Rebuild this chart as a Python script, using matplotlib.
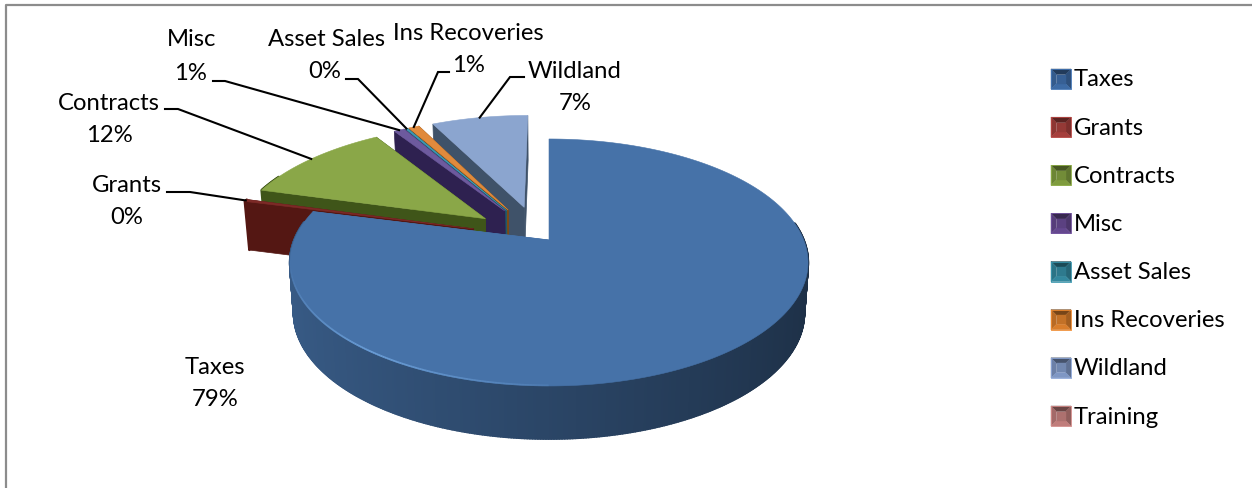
import numpy as np
import matplotlib
matplotlib.use('Agg')
import matplotlib.pyplot as plt
from matplotlib.collections import PolyCollection
from matplotlib.colors import to_rgb

categories = ['Taxes', 'Grants', 'Contracts', 'Misc', 'Asset Sales', 'Ins Recoveries', 'Wildland', 'Training']
values = [79.0, 0.3, 11.5, 0.8, 0.15, 0.8, 7.45, 0.0]
percent_labels = ['79%', '0%', '12%', '1%', '0%', '1%', '7%', '0%']

top_colors = ['#4672a8', '#7d2a27', '#8aa748', '#6d5a9e', '#3f9ab4', '#e08a3c', '#8ba5cf', '#c98a88']
wall_colors = ['#4672a8', '#541713', '#3f5519', '#2e2150', '#1f5a6b', '#7d4a14', '#3f5269', '#70403f']
legend_colors = ['#3d6ba5', '#a63f3c', '#7f9c3e', '#65488f', '#33889e', '#d97d2b', '#7f97c4', '#c07d7b']

# perspective of the disc, fitted on the picture
CX, CY = 549, 241
RX, RY = 254.7, 119.4
K = 0.182
EXPLODE = 0.27
SHIFT = (-0.04, 0.025)

# label centres, and leader start + elbow (pixels)
label_pos = {
    'Taxes': ((215, 367), (215, 399)),
    'Grants': ((127, 185), (127, 218)),
    'Contracts': ((109, 103), (109, 136)),
    'Misc': ((192, 40), (190, 73)),
    'Asset Sales': ((327, 39), (325, 72)),
    'Ins Recoveries': ((468, 33), (468, 65)),
    'Wildland': ((575, 71), (575, 104)),
}
leaders = {
    'Grants': [(167, 193), (190, 193)],
    'Contracts': [(165, 110), (178, 110)],
    'Misc': [(213, 82), (225, 82)],
    'Asset Sales': [(346, 80), (358, 80)],
    'Ins Recoveries': [(449, 73), (438, 73)],
    'Wildland': [(524, 78), (510, 78)],
}
FONT = 'Lato'
FS = 17.2


def project(x, y, z=0.0):
    w = 1 + K * y
    sx = CX + RX * x / w * (1 - 0.015 * z)
    sy = CY - RY * y / w * (1 - 0.015 * z) + z * (49.8 - 5.2 * y)
    return sx, sy


def shade(color, f):
    return tuple(min(1, c * f) for c in to_rgb(color))


def draw_slice(ax, i, a0, a1, zorder):
    mid = (a0 + a1) / 2
    if i == 0:
        ox, oy = 0.0, 0.0
    else:
        ox = SHIFT[0] + EXPLODE * np.sin(mid)
        oy = SHIFT[1] + EXPLODE * np.cos(mid)
    th = np.linspace(a0, a1, max(3, int(np.degrees(a1 - a0) * 2)))
    rim_x = ox + np.sin(th)
    rim_y = oy + np.cos(th)

    # radial walls
    for a in (a0, a1):
        ex, ey = ox + np.sin(a), oy + np.cos(a)
        quad = [project(ox, oy), project(ex, ey), project(ex, ey, 1), project(ox, oy, 1)]
        ax.fill(*zip(*quad), color=wall_colors[i], lw=0.5, zorder=zorder)

    # outer rim, back first, only the part that faces us
    limit = 0.15 if i == 0 else 0.4
    quads, cols = [], []
    for j in np.argsort(-rim_y[:-1]):
        if np.cos(th[j]) > limit:
            continue
        p = [project(rim_x[j], rim_y[j]), project(rim_x[j + 1], rim_y[j + 1]),
             project(rim_x[j + 1], rim_y[j + 1], 1), project(rim_x[j], rim_y[j], 1)]
        quads.append(p)
        if i == 0:
            cols.append(shade(top_colors[0], 0.61 - 0.19 * np.sin(th[j])))
        else:
            cols.append(to_rgb(wall_colors[i]))
    if quads:
        ax.add_collection(PolyCollection(quads, facecolors=cols, edgecolors=cols, linewidths=1.6, zorder=zorder))

    # top face
    tx = np.r_[ox, rim_x]
    ty = np.r_[oy, rim_y]
    sx, sy = project(tx, ty)
    ax.fill(sx, sy, color=top_colors[i], lw=0.4, zorder=zorder + 0.1)

    if i == 0:
        # thin highlight on the front left edge
        for j in range(len(th) - 1):
            deg = np.degrees(th[j])
            if 180 < deg < 262:
                alpha = np.clip(1 - abs(deg - 215) / 45, 0, 1) * 0.75
                xs, ys = project(rim_x[j:j + 2], rim_y[j:j + 2])
                ax.plot(xs, ys - 0.6, color='#78aee8', lw=1.3, alpha=alpha, zorder=zorder + 0.2,
                        solid_capstyle='butt')
    return project(ox + np.sin(mid), oy + np.cos(mid))


def legend_key(ax, x, y, color, size=20):
    e = 5.5
    x1, y1 = x + size, y + size
    faces = [
        ([(x, y), (x1, y), (x1 - e, y + e), (x + e, y + e)], 0.55),
        ([(x, y), (x + e, y + e), (x + e, y1 - e), (x, y1)], 0.85),
        ([(x1, y), (x1 - e, y + e), (x1 - e, y1 - e), (x1, y1)], 0.75),
        ([(x, y1), (x + e, y1 - e), (x1 - e, y1 - e), (x1, y1)], 1.0),
        ([(x + e, y + e), (x1 - e, y + e), (x1 - e, y1 - e), (x + e, y1 - e)], 0.9),
    ]
    for pts, f in faces:
        ax.fill(*zip(*pts), color=shade(color, f), lw=0.3, zorder=6)
    ax.plot([x, x1, x1, x, x], [y, y, y1, y1, y], color=shade(color, 1.1), lw=0.6, zorder=6)


fig = plt.figure(figsize=(12.52, 4.89), dpi=100)
ax = fig.add_axes([0, 0, 1, 1])
ax.set_xlim(0, 1252)
ax.set_ylim(489, 0)
ax.axis('off')

# chart frame
ax.plot([6, 6, 1252], [489, 6, 6], color='#8c8c8c', lw=1.6, zorder=1)

angles = np.r_[0, np.cumsum(values)] / np.sum(values) * 2 * np.pi
anchors = {}
# back slices first, Taxes last
for i in range(6, -1, -1):
    z = 2 + (6 - i) * 0.5
    anchors[categories[i]] = draw_slice(ax, i, angles[i], angles[i + 1], z)

for name, pts in leaders.items():
    end = anchors[name]
    xs = [p[0] for p in pts] + [end[0]]
    ys = [p[1] for p in pts] + [end[1]]
    ax.plot(xs, ys, color='black', lw=1.5, zorder=8, solid_joinstyle='miter')

for i, name in enumerate(categories):
    if name in label_pos:
        (x0, y0), (x1, y1) = label_pos[name]
        ax.text(x0, y0, name, ha='center', va='center', fontsize=FS, family=FONT, zorder=9)
        ax.text(x1, y1, percent_labels[i], ha='center', va='center', fontsize=FS, family=FONT, zorder=9)

legend_y = np.linspace(80, 417, len(categories))
for i, name in enumerate(categories):
    legend_key(ax, 1051, legend_y[i] - 10, legend_colors[i])
    ax.text(1074, legend_y[i], name, ha='left', va='center', fontsize=FS, family=FONT, zorder=9)

fig.savefig('out.png', dpi=100)
